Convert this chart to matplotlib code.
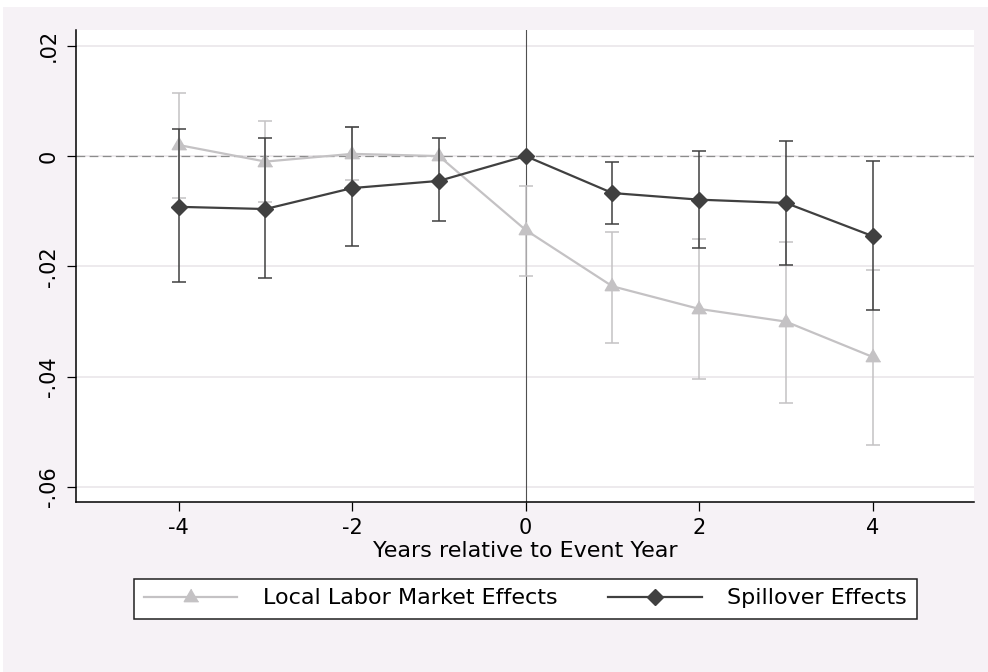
import numpy as np
import matplotlib
matplotlib.use("Agg")
import matplotlib.pyplot as plt
from matplotlib.patches import Rectangle

plt.rcParams['font.family'] = ['DejaVu Sans']

years = [-4, -3, -2, -1, 0, 1, 2, 3, 4]

# Local labor market effects (reference year -1 has no CI)
local_est = [0.0020, -0.0010, 0.0004, 0.0000, -0.0134, -0.0236, -0.0277, -0.0300, -0.0364]
local_lo = [-0.0076, -0.0083, -0.0044, 0.0000, -0.0218, -0.0338, -0.0404, -0.0448, -0.0524]
local_hi = [0.0115, 0.0063, 0.0052, 0.0000, -0.0054, -0.0137, -0.0150, -0.0156, -0.0206]

# Spillover effects (reference year 0 has no CI)
spill_est = [-0.0092, -0.0096, -0.0058, -0.0045, 0.0000, -0.0067, -0.0079, -0.0085, -0.0145]
spill_lo = [-0.0229, -0.0221, -0.0163, -0.0118, 0.0000, -0.0123, -0.0167, -0.0198, -0.0279]
spill_hi = [0.0049, 0.0033, 0.0053, 0.0033, 0.0000, -0.0010, 0.0010, 0.0027, -0.0009]

xticks = [-4, -2, 0, 2, 4]
yticks = [0.02, 0, -0.02, -0.04, -0.06]
ytick_labels = ['.02', '0', '-.02', '-.04', '-.06']

light = '#c4c2c4'
dark = '#404040'
bg = '#f6f2f6'
fs_tick = 15
fs_text = 16

fig = plt.figure(figsize=(9.88, 6.72), dpi=100, facecolor='white')
fig.patches.append(Rectangle((3 / 988, 0), 1, 1 - 7 / 672, transform=fig.transFigure,
                             facecolor=bg, edgecolor='none', zorder=-10))

ax = fig.add_axes([76 / 988, 1 - 502 / 672, (974 - 76) / 988, (502 - 30) / 672])
ax.set_facecolor('white')

tri = [(0, 0.577), (-0.5, -0.289), (0.5, -0.289)]

ax.axhline(0, color='#8c8c8c', lw=0.9, dashes=(7, 3.5), zorder=1)
ax.axvline(0, color='#505050', lw=0.8, zorder=1)

for est, lo, hi, col, mk, ms, lab, z in [
        (local_est, local_lo, local_hi, light, tri, 12, 'Local Labor Market Effects', 2),
        (spill_est, spill_lo, spill_hi, dark, 'D', 7.8, 'Spillover Effects', 3)]:
    est = np.array(est)
    lo = np.array(lo)
    hi = np.array(hi)
    has_ci = hi > lo
    ax.errorbar(np.array(years)[has_ci], est[has_ci],
                yerr=[est[has_ci] - lo[has_ci], hi[has_ci] - est[has_ci]],
                fmt='none', ecolor=col, elinewidth=1.1, capsize=5, capthick=1.1, zorder=z)
    ax.plot(years, est, color=col, lw=1.6, marker=mk, ms=ms, mec=col, mfc=col,
            label=lab, zorder=z + 0.5)

ax.set_xlim(-5.185, 5.17)
ax.set_ylim(-0.0627, 0.02285)
ax.set_xticks(xticks)
ax.set_xticklabels([str(t) for t in xticks])
ax.set_yticks(yticks)
ax.set_yticklabels(ytick_labels, rotation=90, va='center')

ax.grid(axis='y', color='#ece8ec', lw=1.3)
ax.set_axisbelow(True)
for s in ['top', 'right']:
    ax.spines[s].set_visible(False)
for s in ['left', 'bottom']:
    ax.spines[s].set_color('black')
    ax.spines[s].set_linewidth(1.1)

ax.tick_params(axis='both', length=6.5, width=0.9, color='black', labelsize=fs_tick,
               labelcolor='black')
ax.tick_params(axis='x', pad=5)
ax.tick_params(axis='y', pad=6)

ax.set_xlabel('Years relative to Event Year', fontsize=fs_text, labelpad=2)

leg = fig.legend(loc='center', bbox_to_anchor=(525.5 / 988, 1 - 598.5 / 672), ncol=2,
                 fontsize=fs_text, frameon=True, fancybox=False, framealpha=1,
                 edgecolor='#202020', handlelength=4.2, handletextpad=1.15,
                 columnspacing=2.3, borderpad=0.45)
leg.get_frame().set_linewidth(1.1)

fig.savefig('out.png', dpi=100, facecolor=fig.get_facecolor())
